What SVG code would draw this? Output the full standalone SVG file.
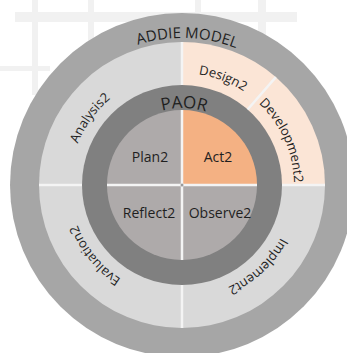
<svg xmlns="http://www.w3.org/2000/svg" width="347" height="353" viewBox="0 0 347 353">
  <defs>
    <path id="arcOuter" d="M35,185 A147,147 0 0 1 329,185"/>
    <path id="arcMid" d="M70,185 A112,112 0 0 1 294,185"/>
    <path id="arcInner" d="M105,185 A77,77 0 0 1 259,185"/>
  </defs>
  <style>
    text { font-family: "Open Sans", "Noto Sans", "Liberation Sans", sans-serif; fill: #1f1f1f; }
    .title { font-size: 15px; }
    .paor { font-size: 17px; }
    .seg { font-size: 13px; }
    .quad { font-size: 14px; }
    .grey { fill: #d9d9d9; }
    .peach { fill: #fbe5d6; }
    .qgrey { fill: #aeaaaa; }
    .div { stroke: #f4f4f4; stroke-width: 2.5; fill: none; }
    .wm { fill: #f1f1f1; }
  </style>
  <rect width="347" height="353" fill="#ffffff"/>
  <g id="watermark">
    <rect class="wm" x="15" y="12" width="282" height="10"/>
    <rect class="wm" x="32" y="0" width="6" height="95"/>
    <rect class="wm" x="88" y="0" width="6" height="60"/>
    <rect class="wm" x="195" y="0" width="6" height="14"/>
    <rect class="wm" x="258" y="0" width="8" height="40"/>
    <rect class="wm" x="0" y="66" width="50" height="5"/>
  </g>
  <g id="addie-model">
    <circle cx="182" cy="185" r="172" fill="#a6a6a6"/>
    <text class="title" transform="rotate(2 182 185)"><textPath href="#arcOuter" startOffset="50%" text-anchor="middle">ADDIE MODEL</textPath></text>
  </g>
  <g id="analysis">
    <path class="grey" d="M182,185 L39,185 A143,143 0 0 1 182,42 Z"/>
    <text class="seg" transform="rotate(-54 182 185)"><textPath href="#arcMid" startOffset="50%" text-anchor="middle">Analysis2</textPath></text>
  </g>
  <g id="design">
    <path class="peach" d="M182,185 L182,42 A143,143 0 0 1 275.82,77.08 Z"/>
    <text class="seg" transform="rotate(21 182 185)"><textPath href="#arcMid" startOffset="50%" text-anchor="middle">Design2</textPath></text>
  </g>
  <g id="development">
    <path class="peach" d="M182,185 L275.82,77.08 A143,143 0 0 1 325,185 Z"/>
    <text class="seg" transform="rotate(66 182 185)"><textPath href="#arcMid" startOffset="50%" text-anchor="middle">Development2</textPath></text>
  </g>
  <g id="implement">
    <path class="grey" d="M182,185 L325,185 A143,143 0 0 1 182,328 Z"/>
    <text class="seg" transform="rotate(137 182 185)"><textPath href="#arcMid" startOffset="50%" text-anchor="middle">Implement2</textPath></text>
  </g>
  <g id="evaluation">
    <path class="grey" d="M182,185 L182,328 A143,143 0 0 1 39,185 Z"/>
    <text class="seg" transform="rotate(231 182 185)"><textPath href="#arcMid" startOffset="50%" text-anchor="middle">Evaluation2</textPath></text>
  </g>
  <g id="paor">
    <circle cx="182" cy="185" r="100" fill="#808080"/>
    <text class="paor" transform="rotate(1.5 182 185)"><textPath href="#arcInner" startOffset="50%" text-anchor="middle">PAOR</textPath></text>
  </g>
  <g id="plan">
    <path class="qgrey" d="M182,185 L107,185 A75,75 0 0 1 182,110 Z"/>
    <text class="quad" x="150" y="162" text-anchor="middle">Plan2</text>
  </g>
  <g id="act">
    <path fill="#f4b183" d="M182,185 L182,110 A75,75 0 0 1 257,185 Z"/>
    <text class="quad" x="218" y="162" text-anchor="middle">Act2</text>
  </g>
  <g id="observe">
    <path class="qgrey" d="M182,185 L257,185 A75,75 0 0 1 182,260 Z"/>
    <text class="quad" x="220" y="218" text-anchor="middle">Observe2</text>
  </g>
  <g id="reflect">
    <path class="qgrey" d="M182,185 L182,260 A75,75 0 0 1 107,185 Z"/>
    <text class="quad" x="149" y="218" text-anchor="middle">Reflect2</text>
  </g>
  <g id="dividers">
    <path class="div" d="M182,42 V85 M182,285 V328 M39,185 H82 M282,185 H325 M247.61,109.53 L275.82,77.08 M182,110 V260 M107,185 H257"/>
    <circle cx="182" cy="185" r="1.5" fill="#9a9a9a"/>
  </g>
</svg>
